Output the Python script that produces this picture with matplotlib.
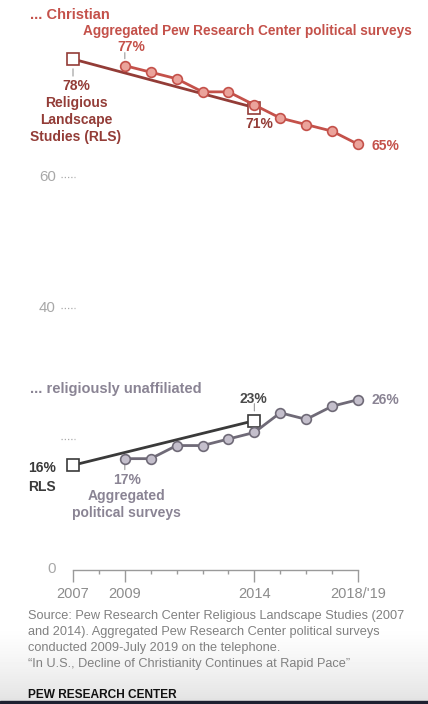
import numpy as np
import matplotlib.pyplot as plt
from matplotlib.patches import Rectangle

plt.rcParams['font.family'] = ['Liberation Sans', 'DejaVu Sans']

# data
years = ['2007', '2008', '2009', '2010', '2011', '2012', '2013', '2014',
         '2015', '2016', '2017', "2018/'19"]
survey_years = years[2:]
rls_years = ['2007', '2014']

christian_surveys = [77, 76, 75, 73, 73, 71, 69, 68, 67, 65]
christian_rls = [78, 70.6]
unaffil_surveys = [17, 17, 19, 19, 20, 21, 24, 23, 25, 26]
unaffil_rls = [16, 22.8]

tick_labels = {'2007': '2007', '2009': '2009', '2014': '2014', "2018/'19": "2018/'19"}
y_ticks = [60, 40, 20]

# colours
RED = '#c4514a'
RED_DARK = '#933c37'
RED_FILL = '#eba39b'
GREY = '#8a8494'
GREY_LINE = '#6f6a77'
GREY_FILL = '#c4bfcc'
DARK = '#3a3a3a'

W, H = 428, 704
fig = plt.figure(figsize=(W / 100, H / 100), dpi=100)

# soft grey gradient at the bottom
bg = fig.add_axes([0, 0, 1, 1], zorder=-1)
grad = np.ones((H, 1))
start = 625
ramp = np.clip((np.arange(H) - start) / (H - 4 - start), 0, 1) ** 1.3
grad[:, 0] = 1 - 0.11 * ramp
bg.imshow(grad, aspect='auto', cmap='gray', vmin=0, vmax=1, extent=[0, 1, 0, 1])
bg.axis('off')
fig.patches.append(Rectangle((0, 0), 1, 3 / H, transform=fig.transFigure,
                             color='#1e2030', zorder=5))

ax = fig.add_axes([0, 0, 1, 1])
ax.patch.set_alpha(0)
xi = {y: i for i, y in enumerate(years)}
px_x, px_y = 25.909, 6.55
ax.set_xlim(-73 / px_x, (W - 73) / px_x)
ax.set_ylim(-(H - 570) / px_y, 570 / px_y)

for s in ['top', 'right', 'left']:
    ax.spines[s].set_visible(False)
ax.spines['bottom'].set_position(('data', 0))
ax.spines['bottom'].set_bounds(0, len(years) - 1)
ax.spines['bottom'].set_color('#9a9a9a')
ax.spines['bottom'].set_linewidth(1.0)

ax.set_xticks([xi[k] for k in tick_labels])
ax.set_xticklabels(list(tick_labels.values()))
ax.set_xticks(range(len(years)), minor=True)
ax.tick_params(axis='x', which='major', direction='out', length=8.6, width=1.0,
               color='#9a9a9a', labelsize=10.5, labelcolor='#8c8c8c', pad=4)
ax.tick_params(axis='x', which='minor', direction='out', length=3, width=1.0,
               color='#9a9a9a')
ax.set_yticks([])

# y labels with dotted stubs
for v in y_ticks:
    ax.hlines(v, -0.46, 0.06, colors='#aaaaaa', linestyles=(0, (1, 1.6)), lw=0.9)
    if v != 20:
        ax.annotate(str(v), (0, v), xytext=(-17, 0), textcoords='offset pixels',
                    ha='right', va='center', fontsize=10.8, color='#a8a8a8')
ax.annotate('0', (0, 0), xytext=(-17, 1), textcoords='offset pixels',
            ha='right', va='center', fontsize=10.8, color='#a8a8a8')

sx = [xi[y] for y in survey_years]
rx = [xi[y] for y in rls_years]

# Christian
ax.plot(rx, christian_rls, color=RED_DARK, lw=2, marker='s', ms=8,
        mfc='white', mec=RED_DARK, mew=1.2, zorder=3, clip_on=False)
ax.plot(sx, christian_surveys, color=RED, lw=2, marker='o', ms=7,
        mfc=RED_FILL, mec=RED, mew=1.2, zorder=4, clip_on=False)

# unaffiliated
ax.plot(rx, unaffil_rls, color=DARK, lw=2, marker='s', ms=8,
        mfc='white', mec=DARK, mew=1.2, zorder=3, clip_on=False)
ax.plot(sx, unaffil_surveys, color=GREY_LINE, lw=2, marker='o', ms=7,
        mfc=GREY_FILL, mec=GREY_LINE, mew=1.2, zorder=4, clip_on=False)


def label(txt, x, y, dx, dy, color, ha='center', ls=1.2, size=10):
    ax.annotate(txt, (x, y), xytext=(dx, dy), textcoords='offset pixels',
                ha=ha, va='center', fontsize=size, fontweight='bold',
                color=color, linespacing=ls, multialignment=ha)


def leader(x, y, dy, shrink, color):
    ax.annotate('', (x, y), xytext=(0, dy), textcoords='offset pixels',
                arrowprops=dict(arrowstyle='-', color=color, lw=0.8,
                                shrinkA=0, shrinkB=shrink))


fig.text(30 / W, 1 - 15 / H, '... Christian', fontsize=10.5, fontweight='bold',
         color=RED, va='center', ha='left')
label('Aggregated Pew Research Center political surveys', sx[0],
      christian_surveys[0], -42, 35, RED, ha='left', size=9.8)
label(f'{christian_surveys[0]}%', sx[0], christian_surveys[0], 6, 19, RED)
leader(sx[0], christian_surveys[0], 13, 5, '#999999')
label(f'{christian_surveys[-1]}%', sx[-1], christian_surveys[-1], 14, -2, RED, ha='left')
label(f'{round(christian_rls[0])}%', rx[0], christian_rls[0], 3, -27, RED_DARK)
leader(rx[0], christian_rls[0], -17, 7, '#999999')
label('Religious\nLandscape\nStudies (RLS)', rx[0], christian_rls[0], 3, -61,
      RED_DARK, ls=1.28)
label(f'{round(christian_rls[1])}%', rx[1], christian_rls[1], 5, -16, RED_DARK)

fig.text(30 / W, 1 - 389 / H, '... religiously unaffiliated', fontsize=10.5,
         fontweight='bold', color=GREY, va='center', ha='left')
label(f'{round(unaffil_rls[1])}%', rx[1], unaffil_rls[1], -1, 22, '#4a4a4a')
leader(rx[1], unaffil_rls[1], 17, 7, '#999999')
label(f'{unaffil_surveys[-1]}%', sx[-1], unaffil_surveys[-1], 14, 0, GREY, ha='left')
label(f'{round(unaffil_rls[0])}%\nRLS', rx[0], unaffil_rls[0], -45, -12, DARK,
      ha='left', ls=1.42)
label(f'{unaffil_surveys[0]}%', sx[0], unaffil_surveys[0], 2, -21, GREY)
leader(sx[0], unaffil_surveys[0], -11, 3.6, '#999999')
label('Aggregated\npolitical surveys', sx[0], unaffil_surveys[0], 2, -46, GREY, ls=1.28)

# notes
source = ('Source: Pew Research Center Religious Landscape Studies (2007\n'
          'and 2014). Aggregated Pew Research Center political surveys\n'
          'conducted 2009-July 2019 on the telephone.\n'
          '\u201cIn U.S., Decline of Christianity Continues at Rapid Pace\u201d')
fig.text(28 / W, 1 - 610 / H, source, fontsize=9.2, color='#808080',
         va='top', ha='left', linespacing=1.45)
fig.text(28 / W, 1 - 695 / H, 'PEW RESEARCH CENTER', fontsize=8.6, fontweight='bold',
         color='#111111', va='center', ha='left')

fig.savefig('out.png', dpi=100)
